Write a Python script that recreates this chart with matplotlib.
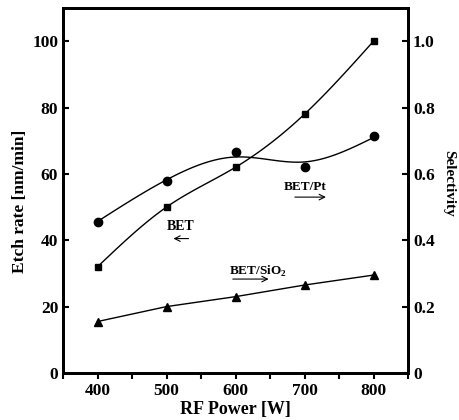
import numpy as np
import matplotlib.pyplot as plt
from matplotlib.ticker import MultipleLocator

plt.rcParams['font.family'] = ['Liberation Serif', 'DejaVu Serif']
plt.rcParams['font.weight'] = 'bold'
plt.rcParams['mathtext.fontset'] = 'custom'
plt.rcParams['mathtext.bf'] = 'Liberation Serif:bold'

# data
power = [400, 500, 600, 700, 800]
etch_bet = [32, 50, 62, 78, 100]               # squares, left axis
sel_pt = [0.455, 0.58, 0.665, 0.62, 0.715]     # circles, right axis
sel_sio2 = [0.155, 0.20, 0.23, 0.265, 0.295]   # triangles, right axis


def smooth_curve(x, y, lam, n=81):
    # penalized least squares on a fine grid (smoothing spline like)
    grid = np.linspace(min(x), max(x), n)
    h = 1.0 / (n - 1)
    W = np.zeros(n)
    yy = np.zeros(n)
    for xi, yi in zip(x, y):
        k = int(round((xi - grid[0]) / (grid[-1] - grid[0]) * (n - 1)))
        W[k] = 1.0
        yy[k] = yi
    D = np.diff(np.eye(n), 2, axis=0) / h**2
    A = np.diag(W) + lam * h * D.T @ D
    return grid, np.linalg.solve(A, W * yy)


fig = plt.figure(figsize=(4.6, 4.2), dpi=100)
ax = fig.add_axes([0.137, 0.112, 0.750, 0.869])
ax2 = ax.twinx()

gx, gy = smooth_curve(power, etch_bet, 1e-6)
ax.plot(gx, gy, color='black', lw=1)
ax.plot(power, etch_bet, 's', color='black', ms=5)

gx, gy = smooth_curve(power, sel_pt, 5e-4)
ax2.plot(gx, gy, color='black', lw=1)
ax2.plot(power, sel_pt, 'o', color='black', ms=6)

ax2.plot(power, sel_sio2, '-^', color='black', lw=1, ms=6)

ax.set_xlim(350, 850)
ax.set_ylim(0, 110)
ax2.set_ylim(0, 1.1)

ax.xaxis.set_major_locator(MultipleLocator(100))
ax.xaxis.set_minor_locator(MultipleLocator(50))
ax.yaxis.set_major_locator(MultipleLocator(20))
ax2.set_yticks([0, 0.2, 0.4, 0.6, 0.8, 1.0])
ax2.set_yticklabels(['0', '0.2', '0.4', '0.6', '0.8', '1.0'])

ax.tick_params(axis='x', which='both', direction='out', length=4, width=1.5, labelsize=12.5)
ax.tick_params(axis='y', direction='in', length=4, width=1.5, labelsize=12.5)
ax2.tick_params(axis='y', direction='in', length=4, width=1.5, labelsize=12.5)

for a in (ax, ax2):
    for s in a.spines.values():
        s.set_linewidth(2)

ax.set_xlabel('RF Power [W]', fontsize=13, fontweight='bold', labelpad=1)
ax.set_ylabel('Etch rate [nm/min]', fontsize=12.5, fontweight='bold', labelpad=3)
ax.yaxis.label.set_y(0.47)
ax2.set_ylabel('Selectivity', fontsize=11, fontweight='bold', rotation=270, labelpad=15)
ax2.yaxis.label.set_y(0.52)

# series labels with arrows
ax.text(521, 44, 'BET', ha='center', va='center', fontsize=10, fontweight='bold')
ax.annotate('', xy=(506, 40.5), xytext=(536, 40.5),
            arrowprops=dict(arrowstyle='->', lw=0.8, color='black'))
ax.text(701, 56, 'BET/Pt', ha='center', va='center', fontsize=9.5, fontweight='bold')
ax.annotate('', xy=(735, 53), xytext=(682, 53),
            arrowprops=dict(arrowstyle='->', lw=0.8, color='black'))
ax.text(632, 30.5, 'BET/SiO$_\\mathbf{2}$', ha='center', va='center', fontsize=9.5, fontweight='bold')
ax.annotate('', xy=(652, 28.3), xytext=(592, 28.3),
            arrowprops=dict(arrowstyle='->', lw=0.8, color='black'))

fig.savefig('out.png', dpi=100)
